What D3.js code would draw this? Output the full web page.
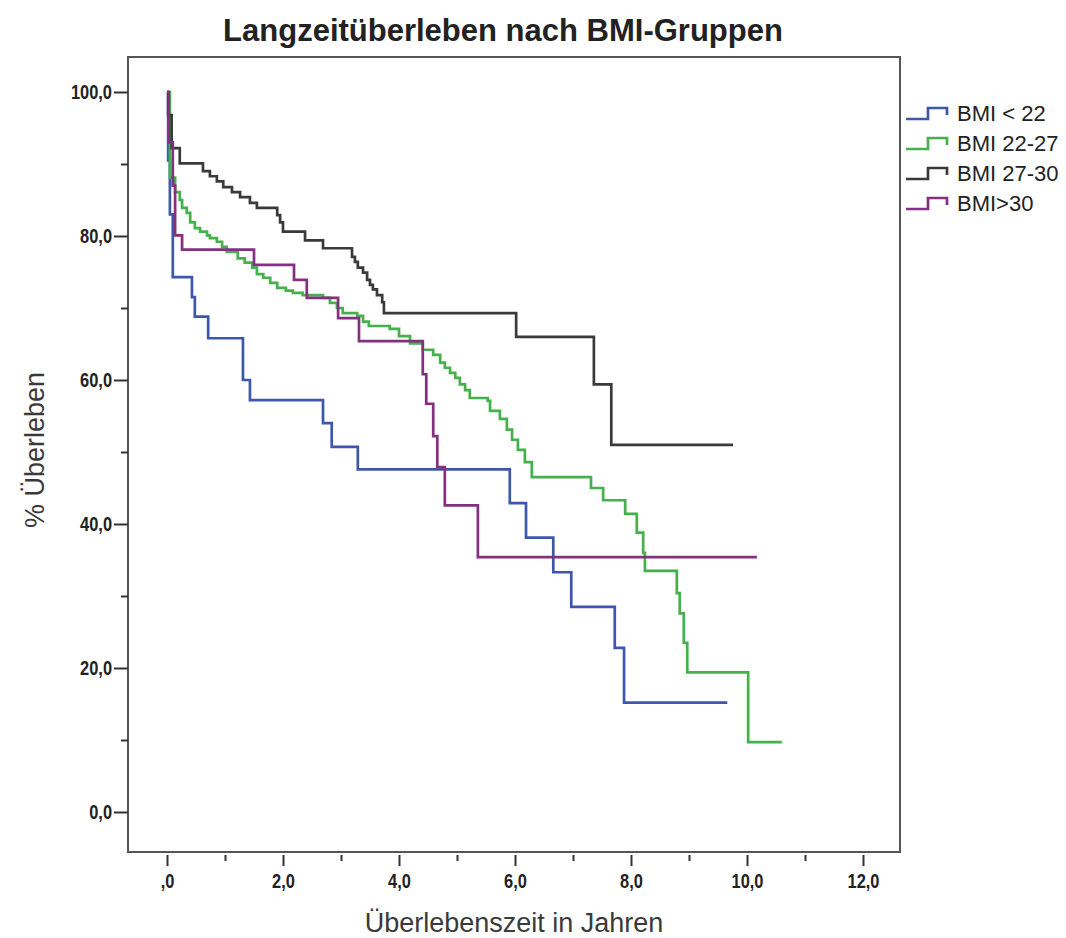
<!DOCTYPE html>
<html>
<head>
<meta charset="utf-8">
<title>Langzeitüberleben nach BMI-Gruppen</title>
<script src="https://cdn.jsdelivr.net/npm/d3@7/dist/d3.min.js"></script>
<style>
  body { margin: 0; background: #fff; }
  .tick text { font-family: "Liberation Sans", Arial, sans-serif; font-weight: bold; font-size: 20px; fill: #222; }
  .tick line { stroke: #333; stroke-width: 2; }
</style>
</head>
<body>
<div class="canvas"></div>
<script>
// groups + Kaplan-Meier step values (time in years, % surviving)
const groupNames = ['BMI < 22', 'BMI 22-27', 'BMI 27-30', 'BMI>30']

const timesUnder22 = [0, 0.02, 0.05, 0.1, 0.43, 0.48, 0.71, 1.31, 1.43, 2.69, 2.84, 3.29, 5.91, 6.19, 6.66, 6.97, 7.72, 7.88, 9.66]
const survUnder22 = [100, 90.5, 83.0, 74.3, 71.5, 68.8, 65.8, 60.0, 57.2, 54.0, 50.7, 47.6, 42.9, 38.1, 33.3, 28.5, 22.8, 15.2, 15.2]

const times22to27 = [0, 0.05, 0.14, 0.22, 0.26, 0.34, 0.4, 0.48, 0.57, 0.69, 0.74, 0.86, 0.95, 1.03, 1.22,
  1.34, 1.47, 1.55, 1.66, 1.78, 1.9, 2.05, 2.17, 2.34, 2.69, 2.81, 2.93, 3.03, 3.28, 3.38,
  3.48, 3.84, 4.0, 4.19, 4.41, 4.59, 4.71, 4.79, 4.88, 4.97, 5.05, 5.14, 5.22, 5.53, 5.57,
  5.74, 5.86, 5.95, 6.05, 6.17, 6.29, 7.31, 7.52, 7.9, 8.1, 8.21, 8.24, 8.79, 8.84, 8.91,
  8.97, 10.02, 10.6]
const surv22to27 = [100, 88.1, 86.1, 85.0, 83.9, 83.2, 81.9, 81.1, 80.6, 80.1, 79.7, 79.2, 78.5, 77.8, 76.9,
  76.3, 75.6, 74.7, 74.2, 73.5, 72.8, 72.4, 72.1, 71.8, 71.4, 70.7, 70.0, 69.3, 68.9, 68.1,
  67.5, 67.1, 66.1, 65.1, 64.2, 63.5, 62.4, 61.7, 61.0, 60.3, 59.4, 58.6, 57.5, 57.1, 55.7,
  54.6, 53.1, 51.7, 50.3, 48.6, 46.5, 45.0, 43.3, 41.4, 38.8, 36.0, 33.5, 30.4, 27.6, 23.5,
  19.4, 9.7, 9.7]

const times27to30 = [0, 0.02, 0.08, 0.22, 0.62, 0.74, 0.86, 0.97, 1.12, 1.26, 1.43, 1.55, 1.9, 1.95, 2.0,
  2.38, 2.69, 3.19, 3.24, 3.29, 3.38, 3.45, 3.5, 3.55, 3.62, 3.71, 3.74, 6.02, 7.36, 7.66, 9.76]
const surv27to30 = [100, 96.8, 92.2, 90.1, 89.0, 88.3, 87.6, 86.8, 86.1, 85.4, 84.6, 83.9, 82.9, 81.9, 80.6,
  79.4, 78.3, 77.1, 76.4, 75.6, 74.9, 73.9, 73.2, 72.6, 71.8, 70.8, 69.3, 66.0, 59.4, 51.0, 51.0]

const timesOver30 = [0, 0.03, 0.1, 0.14, 0.26, 1.5, 2.19, 2.41, 2.95, 3.31, 4.41, 4.47, 4.59, 4.66, 4.79, 5.36, 10.17]
const survOver30 = [100, 93.0, 87.0, 80.1, 78.1, 76.0, 73.9, 71.4, 68.6, 65.4, 60.8, 56.7, 52.2, 47.9, 42.6, 35.4, 35.4]

const xTicks = [0, 2, 4, 6, 8, 10, 12]
const xTickLabels = [',0', '2,0', '4,0', '6,0', '8,0', '10,0', '12,0']
const yTicks = [0, 20, 40, 60, 80, 100]
const yTickLabels = ['0,0', '20,0', '40,0', '60,0', '80,0', '100,0']

const colour = d3.scaleOrdinal()
  .domain(groupNames)
  .range(['#3d58aa', '#45b04c', '#3a3a3a', '#83307f'])

const series = [
  {name: groupNames[0], t: timesUnder22, s: survUnder22},
  {name: groupNames[1], t: times22to27, s: surv22to27},
  {name: groupNames[2], t: times27to30, s: surv27to30},
  {name: groupNames[3], t: timesOver30, s: survOver30}
]

// plot frame
const frame = {left: 128, right: 900, top: 57, bottom: 852}

const svg = d3.select('.canvas')
  .append('svg')
  .attr('width', 1066)
  .attr('height', 938)

const x = d3.scaleLinear().domain([0, 12]).range([167, 863])
const y = d3.scaleLinear().domain([0, 100]).range([812, 92])

svg.append('rect')
  .attr('x', frame.left)
  .attr('y', frame.top)
  .attr('width', frame.right - frame.left)
  .attr('height', frame.bottom - frame.top)
  .attr('fill', 'none')
  .attr('stroke', '#555')
  .attr('stroke-width', 2)

// y axis: labelled every 20, short ticks between
const yAxis = svg.append('g')
  .attr('transform', `translate(${frame.left}, 0)`)
  .call(d3.axisLeft(y).tickValues(yTicks).tickSize(14).tickPadding(2)
    .tickFormat((d, i) => yTickLabels[i]))
yAxis.select('.domain').remove()

const yMinor = svg.append('g')
  .attr('transform', `translate(${frame.left}, 0)`)
  .call(d3.axisLeft(y).tickValues([10, 30, 50, 70, 90]).tickSize(7).tickFormat(''))
yMinor.select('.domain').remove()

// x axis sits a little below the frame
const xAxis = svg.append('g')
  .attr('transform', `translate(0, ${frame.bottom + 3})`)
  .call(d3.axisBottom(x).tickValues(xTicks).tickSize(11).tickPadding(8)
    .tickFormat((d, i) => xTickLabels[i]))
xAxis.select('.domain').remove()

const xMinor = svg.append('g')
  .attr('transform', `translate(0, ${frame.bottom + 3})`)
  .call(d3.axisBottom(x).tickValues([1, 3, 5, 7, 9, 11]).tickSize(6).tickFormat(''))
xMinor.select('.domain').remove()

// squeeze the bold tick labels a bit, they are set in a narrow face
svg.selectAll('.tick text').each(function () {
  const len = this.getComputedTextLength()
  if (len > 0) {
    d3.select(this)
      .attr('textLength', len * 0.82)
      .attr('lengthAdjust', 'spacingAndGlyphs')
  }
})

// survival curves
const line = d3.line()
  .x(d => x(d[0]))
  .y(d => y(d[1]))
  .curve(d3.curveStepAfter)

svg.append('g')
  .selectAll('path')
  .data(series)
  .enter()
  .append('path')
  .attr('d', d => line(d.t.map((t, i) => [t, d.s[i]])))
  .attr('fill', 'none')
  .attr('stroke', d => colour(d.name))
  .attr('stroke-width', 2.7)
  .attr('stroke-linejoin', 'miter')

// titles
svg.append('text')
  .attr('x', 503)
  .attr('y', 41)
  .attr('text-anchor', 'middle')
  .style('font-family', '"Liberation Sans", Arial, sans-serif')
  .style('font-weight', 'bold')
  .style('font-size', '31px')
  .attr('fill', '#222')
  .text('Langzeitüberleben nach BMI-Gruppen')

svg.append('text')
  .attr('x', 514)
  .attr('y', 932)
  .attr('text-anchor', 'middle')
  .style('font-family', '"Liberation Sans", Arial, sans-serif')
  .style('font-size', '27px')
  .attr('fill', '#3a3a3a')
  .text('Überlebenszeit in Jahren')

svg.append('text')
  .attr('transform', 'translate(44, 450) rotate(-90)')
  .attr('text-anchor', 'middle')
  .style('font-family', '"Liberation Sans", Arial, sans-serif')
  .style('font-size', '27px')
  .attr('fill', '#3a3a3a')
  .text('% Überleben')

// legend with little step glyphs
const legendGroup = svg.append('g')
  .attr('transform', 'translate(906, 119)')

const legendItem = legendGroup.selectAll('g')
  .data(groupNames)
  .enter()
  .append('g')
  .attr('transform', (d, i) => `translate(0, ${i * 30})`)

legendItem.append('path')
  .attr('d', 'M0,0 H22 V-11 H41 V-4')
  .attr('fill', 'none')
  .attr('stroke', d => colour(d))
  .attr('stroke-width', 2.7)

legendItem.append('text')
  .attr('x', 51)
  .attr('y', 2)
  .style('font-family', '"Liberation Sans", Arial, sans-serif')
  .style('font-size', '22px')
  .attr('fill', '#222')
  .text(d => d)
</script>
</body>
</html>
